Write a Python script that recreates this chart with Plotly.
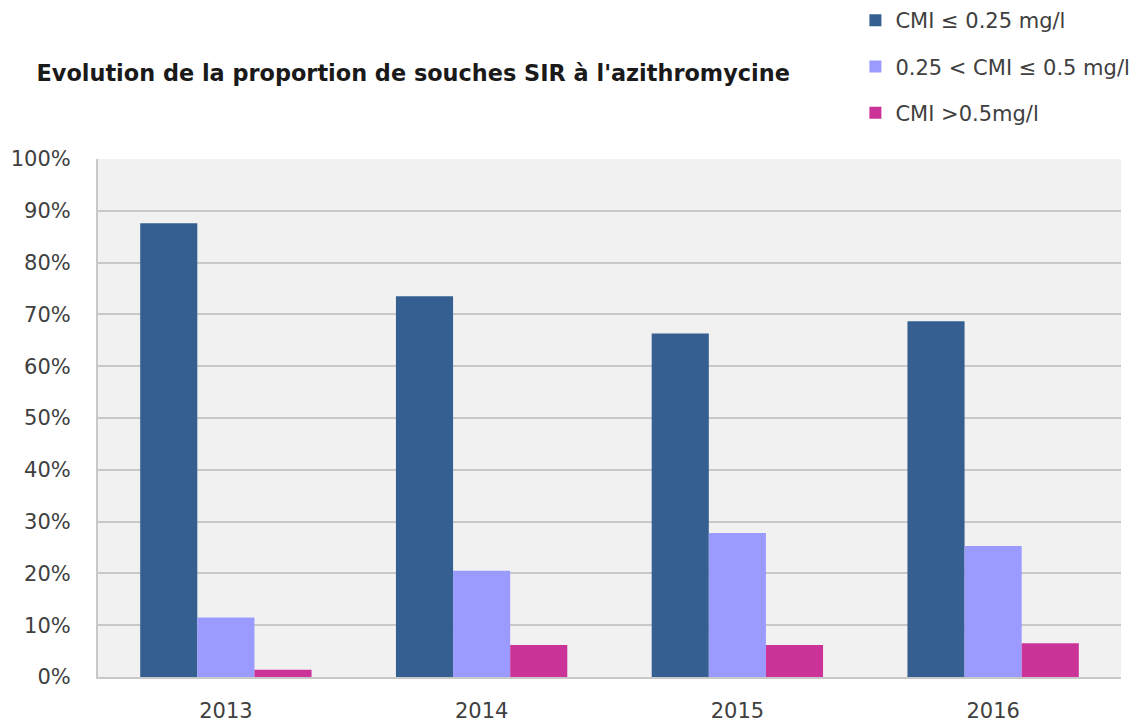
import plotly.graph_objects as go

years = ["2013", "2014", "2015", "2016"]
series_names = ["CMI ≤ 0.25 mg/l", "0.25 < CMI ≤ 0.5 mg/l", "CMI >0.5mg/l"]
low = [87.6, 73.5, 66.3, 68.7]
mid = [11.5, 20.5, 27.8, 25.3]
high = [1.4, 6.2, 6.2, 6.5]
colors = ["#365f91", "#9b9bff", "#cc3399"]
title_text = "Evolution de la proportion de souches SIR à l'azithromycine"

FONT = "DejaVu Sans"

fig = go.Figure()
for i, (name, vals) in enumerate(zip(series_names, [low, mid, high])):
    fig.add_trace(go.Bar(
        x=years, y=vals, name=name, legendgroup=f"g{i}",
        marker=dict(color=colors[i], line=dict(width=0)),
    ))

fig.update_layout(
    width=1141, height=722,
    margin=dict(l=98, r=20, t=159, b=45, autoexpand=False),
    paper_bgcolor="white",
    plot_bgcolor="#f1f1f1",
    barmode="group",
    bargap=0.33,
    bargroupgap=0,
    font=dict(family=FONT, size=21, color="#404040"),
    title=dict(text=f"<b>{title_text}</b>", x=0.032, xanchor="left", xref="container",
               y=0.899, yanchor="middle", yref="container",
               font=dict(family=FONT, size=22.4, color="#1a1a1a")),
    legend=dict(x=0.7497, y=1.0, xanchor="left", yanchor="top",
                xref="container", yref="container",
                tracegroupgap=16, font=dict(family=FONT, size=21, color="#404040"),
                bgcolor="rgba(0,0,0,0)"),
    showlegend=True,
)
fig.update_yaxes(range=[0, 100], dtick=10, ticksuffix="%",
                 showgrid=True, gridcolor="#c8c8c8", gridwidth=2,
                 showline=True, linecolor="#c8c8c8", linewidth=2,
                 zeroline=False, ticks="", ticklabelstandoff=21,
                 tickfont=dict(family=FONT, size=21, color="#404040"))
fig.update_xaxes(showline=True, linecolor="#c8c8c8", linewidth=2,
                 ticks="", ticklabelstandoff=14,
                 tickfont=dict(family=FONT, size=21, color="#404040"))

fig.write_html("out.html", config={"displayModeBar": False},
               post_script="document.body.style.margin='0';")
